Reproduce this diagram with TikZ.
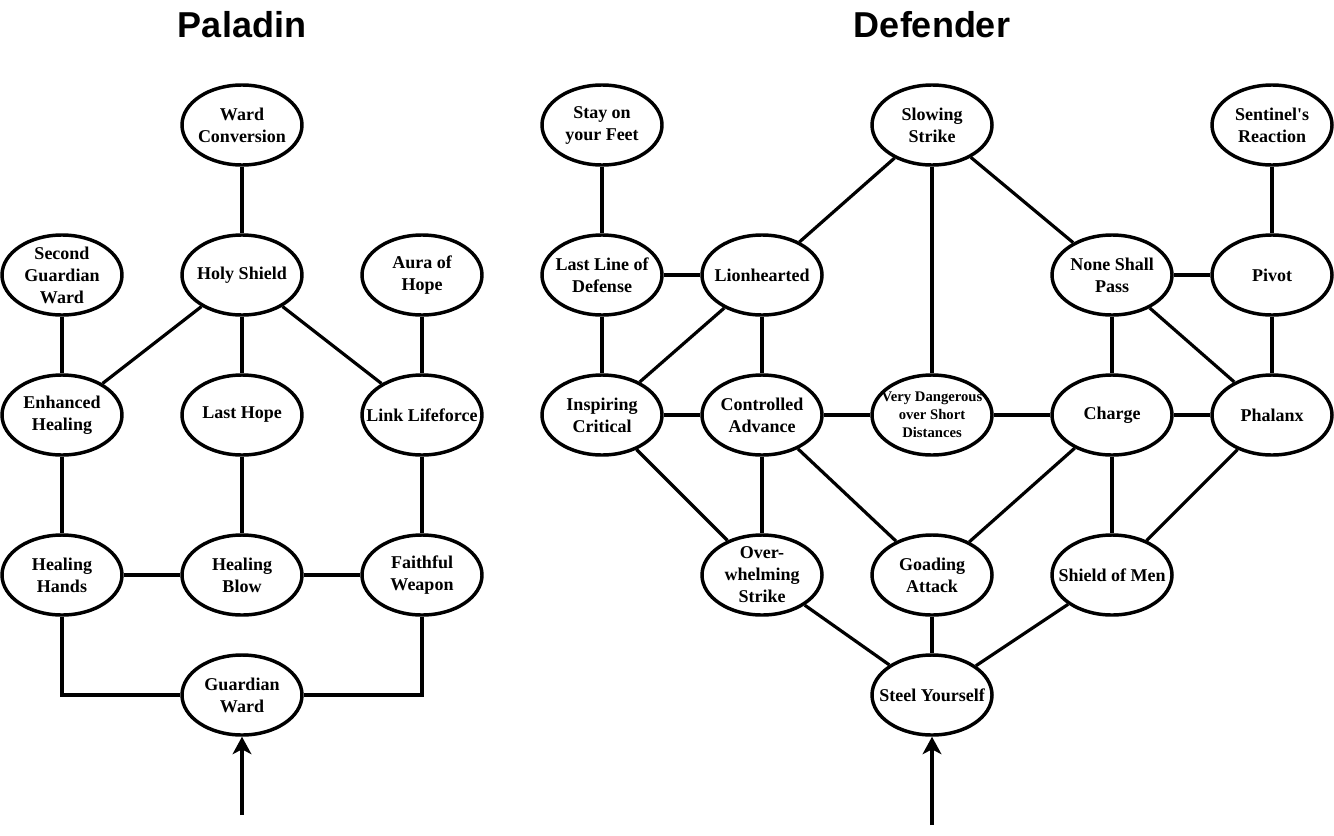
\documentclass[tikz,border=0pt]{standalone}
\usepackage{fontspec}
\setmainfont{Liberation Serif}
\newfontfamily\titlefont{Liberation Sans}
\usetikzlibrary{shapes.geometric,arrows.meta}

\tikzset{
	skill/.style={ellipse, draw, line width=2.6pt, minimum width=90pt, minimum height=60pt,
		inner xsep=-24pt, inner ysep=-15pt, align=center,
		font=\fontsize{13.5}{16.5}\selectfont\bfseries},
	smallskill/.style={skill, font=\fontsize{11}{13.5}\selectfont\bfseries},
	link/.style={line width=2.4pt},
	title/.style={font=\titlefont\fontsize{27}{30}\selectfont\bfseries},
}

\begin{document}
\begin{tikzpicture}[
x=0.75pt,
y=-0.75pt,
]

	\useasboundingbox (0,0) rectangle (1334,835);

	%%%%%%%%%%%%%%%%%%%%%%%%%%%%
	%Paladin
	%%%%%%%%%%%%%%%%%%%%%%%%%%%%

	\node [title] (paladin) at (242,25) {Paladin};

	\node [skill] (wardconv) at (242,125) {Ward\\Conversion};
	\node [skill] (secondgw) at (62,275) {Second\\Guardian\\Ward};
	\node [skill] (holyshield) at (242,275) {Holy Shield};
	\node [skill] (aura) at (422,275) {Aura of\\Hope};
	\node [skill] (enhheal) at (62,415) {Enhanced\\Healing};
	\node [skill] (lasthope) at (242,415) {Last Hope};
	\node [skill] (lifeforce) at (422,415) {Link Lifeforce};
	\node [skill] (healhands) at (62,575) {Healing\\Hands};
	\node [skill] (healblow) at (242,575) {Healing\\Blow};
	\node [skill] (faithful) at (422,575) {Faithful\\Weapon};
	\node [skill] (guardward) at (242,695) {Guardian\\Ward};

	\draw [link] (wardconv) -- (holyshield);
	\draw [link] (secondgw) -- (enhheal);
	\draw [link] (holyshield) -- (enhheal);
	\draw [link] (holyshield) -- (lasthope);
	\draw [link] (holyshield) -- (lifeforce);
	\draw [link] (aura) -- (lifeforce);
	\draw [link] (enhheal) -- (healhands);
	\draw [link] (lasthope) -- (healblow);
	\draw [link] (lifeforce) -- (faithful);
	\draw [link] (healhands) -- (healblow);
	\draw [link] (healblow) -- (faithful);
	\draw [link] (healhands.south) |- (guardward.west);
	\draw [link] (faithful.south) |- (guardward.east);

	\coordinate (palstart) at (242,815);
	\draw [link, -{Stealth[length=13pt, width=14pt, inset=3.5pt]}] (palstart) -- (guardward.south);

	%%%%%%%%%%%%%%%%%%%%%%%%%%%%
	%Defender
	%%%%%%%%%%%%%%%%%%%%%%%%%%%%

	\node [title] (defender) at (932,25) {Defender};

	\node [skill] (stayfeet) at (602,125) {Stay on\\your Feet};
	\node [skill] (slowing) at (932,125) {Slowing\\Strike};
	\node [skill] (sentinel) at (1272,125) {Sentinel\textquotesingle s\\Reaction};
	\node [skill] (lastline) at (602,275) {Last Line of\\Defense};
	\node [skill] (lionheart) at (762,275) {Lionhearted};
	\node [skill] (noneshall) at (1112,275) {None Shall\\Pass};
	\node [skill] (pivot) at (1272,275) {Pivot};
	\node [skill] (inspiring) at (602,415) {Inspiring\\Critical};
	\node [skill] (controlled) at (762,415) {Controlled\\Advance};
	\node [smallskill] (dangerous) at (932,415) {Very Dangerous\\over Short\\Distances};
	\node [skill] (charge) at (1112,415) {Charge};
	\node [skill] (phalanx) at (1272,415) {Phalanx};
	\node [skill] (overwhelm) at (762,575) {Over-\\whelming\\Strike};
	\node [skill] (goading) at (932,575) {Goading\\Attack};
	\node [skill] (shieldmen) at (1112,575) {Shield of Men};
	\node [skill] (steel) at (932,695) {Steel Yourself};

	\draw [link] (stayfeet) -- (lastline);
	\draw [link] (slowing) -- (lionheart);
	\draw [link] (slowing) -- (dangerous);
	\draw [link] (slowing) -- (noneshall);
	\draw [link] (sentinel) -- (pivot);
	\draw [link] (lastline) -- (lionheart);
	\draw [link] (noneshall) -- (pivot);
	\draw [link] (lastline) -- (inspiring);
	\draw [link] (lionheart) -- (inspiring);
	\draw [link] (lionheart) -- (controlled);
	\draw [link] (noneshall) -- (charge);
	\draw [link] (noneshall) -- (phalanx);
	\draw [link] (pivot) -- (phalanx);
	\draw [link] (inspiring) -- (controlled);
	\draw [link] (controlled) -- (dangerous);
	\draw [link] (dangerous) -- (charge);
	\draw [link] (charge) -- (phalanx);
	\draw [link] (inspiring) -- (overwhelm);
	\draw [link] (controlled) -- (overwhelm);
	\draw [link] (controlled) -- (goading);
	\draw [link] (charge) -- (goading);
	\draw [link] (charge) -- (shieldmen);
	\draw [link] (phalanx) -- (shieldmen);
	\draw [link] (overwhelm) -- (steel);
	\draw [link] (goading) -- (steel);
	\draw [link] (shieldmen) -- (steel);

	\coordinate (defstart) at (932,825);
	\draw [link, -{Stealth[length=13pt, width=14pt, inset=3.5pt]}] (defstart) -- (steel.south);

\end{tikzpicture}
\end{document}
